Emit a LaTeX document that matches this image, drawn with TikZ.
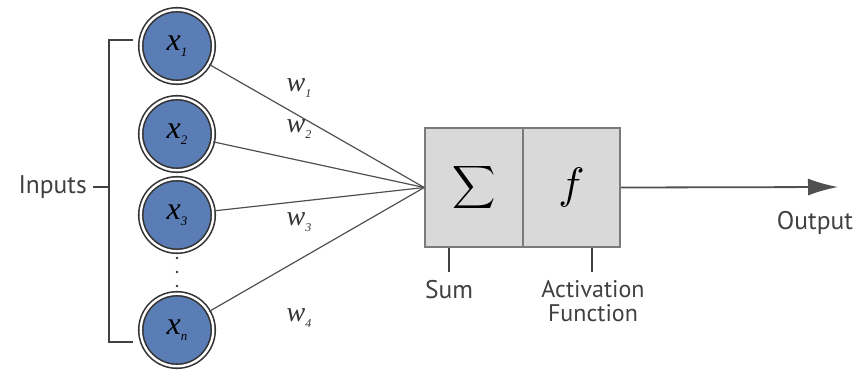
\documentclass[tikz,border=0pt]{standalone}
\usepackage{fontspec}
\usepackage{graphicx}
\setmainfont{PT Sans}
\newfontfamily\mathserif{Liberation Serif}
\usetikzlibrary{arrows.meta}
\definecolor{nblue}{HTML}{5B7DB6}
\definecolor{ndark}{HTML}{333333}
\definecolor{boxfill}{HTML}{D9D9D9}
\definecolor{boxline}{HTML}{7A7A7A}
\definecolor{txt}{HTML}{404040}
\definecolor{wire}{HTML}{505050}
\newcommand{\invar}[1]{\fontsize{32}{32}\selectfont\mathserif\itshape x\raisebox{-6pt}{\fontsize{13}{13}\selectfont #1}}
\newcommand{\wvar}[1]{\fontsize{28}{28}\selectfont\mathserif\itshape w\raisebox{-6pt}{\fontsize{12}{12}\selectfont #1}}
\begin{document}
\begin{tikzpicture}[x=1pt,y=-1pt,
  neuron/.style={circle,minimum size=72.5pt,inner sep=0pt,fill=nblue,draw=ndark,line width=1.6pt,double=white,double distance=2.4pt},
  unitbox/.style={rectangle,fill=boxfill,draw=boxline,line width=1.6pt,inner sep=0pt},
  lbl/.style={text=txt,font=\fontsize{25.5}{22}\selectfont,inner sep=0pt},
  wlbl/.style={inner sep=0pt,text=ndark},
  wireline/.style={draw=wire,line width=1.2pt},
  brk/.style={draw=txt,line width=1.2pt}]
\useasboundingbox (0,0) rectangle (868,378);
% inputs
\node[neuron] (x1) at (177,46) {\invar{1}};
\node[neuron] (x2) at (177,134) {\invar{2}};
\node[neuron] (x3) at (177,215) {\invar{3}};
\node[neuron] (xn) at (177,330) {\invar{n}};
% dots
\node[circle,fill=ndark,inner sep=0pt,minimum size=2.6pt] (d1) at (177,258) {};
\node[circle,fill=ndark,inner sep=0pt,minimum size=2.6pt] (d2) at (177,272) {};
\node[circle,fill=ndark,inner sep=0pt,minimum size=2.6pt] (d3) at (177,286) {};
% boxes
\node[unitbox,minimum width=98pt,minimum height=119pt] (sum) at (474,187.5) {\scalebox{3}{$\displaystyle\sum$}};
\node[unitbox,minimum width=97pt,minimum height=119pt] (act) at (571.5,187.5) {\scalebox{4.4}{$f$}};
\coordinate (join) at (sum.west);
% wires
\draw[wireline] (x1) -- (join);
\draw[wireline] (x2) -- (join);
\draw[wireline] (x3) -- (join);
\draw[wireline] (xn) -- (join);
% weights
\node[wlbl] (w1) at (299,88) {\wvar{1}};
\node[wlbl] (w2) at (299,129) {\wvar{2}};
\node[wlbl] (w3) at (299,222) {\wvar{3}};
\node[wlbl] (w4) at (299,318) {\wvar{4}};
% bracket
\coordinate (bt) at (109,40);
\coordinate (bb) at (109,342);
\coordinate (btr) at (133,40);
\coordinate (bbr) at (133,342);
\coordinate (bm) at (109,187);
\node[lbl,anchor=east] (inputs) at (87,187) {Inputs};
\draw[brk] (inputs.east) ++(6,0) -- (bm);
\draw[brk] (btr) -- (bt) -- (bb) -- (bbr);
% output
\coordinate (outend) at (838,187);
\draw[draw=wire,line width=1.8pt,-{Latex[length=30pt,width=17pt]}] (act.east) -- (outend);
\node[lbl] (output) at (815,223) {Output};
% sum / activation labels
\coordinate (sumt) at (449,272);
\coordinate (actt) at (592,272);
\draw[brk] (sum.south -| sumt) -- (sumt);
\draw[brk] (act.south -| actt) -- (actt);
\node[lbl,anchor=north] (sumlbl) at (449,280) {Sum};
\node[lbl,anchor=north,align=center,font=\fontsize{24}{24}\selectfont] (actlbl) at (593,280) {Activation\\Function};
\end{tikzpicture}
\end{document}
